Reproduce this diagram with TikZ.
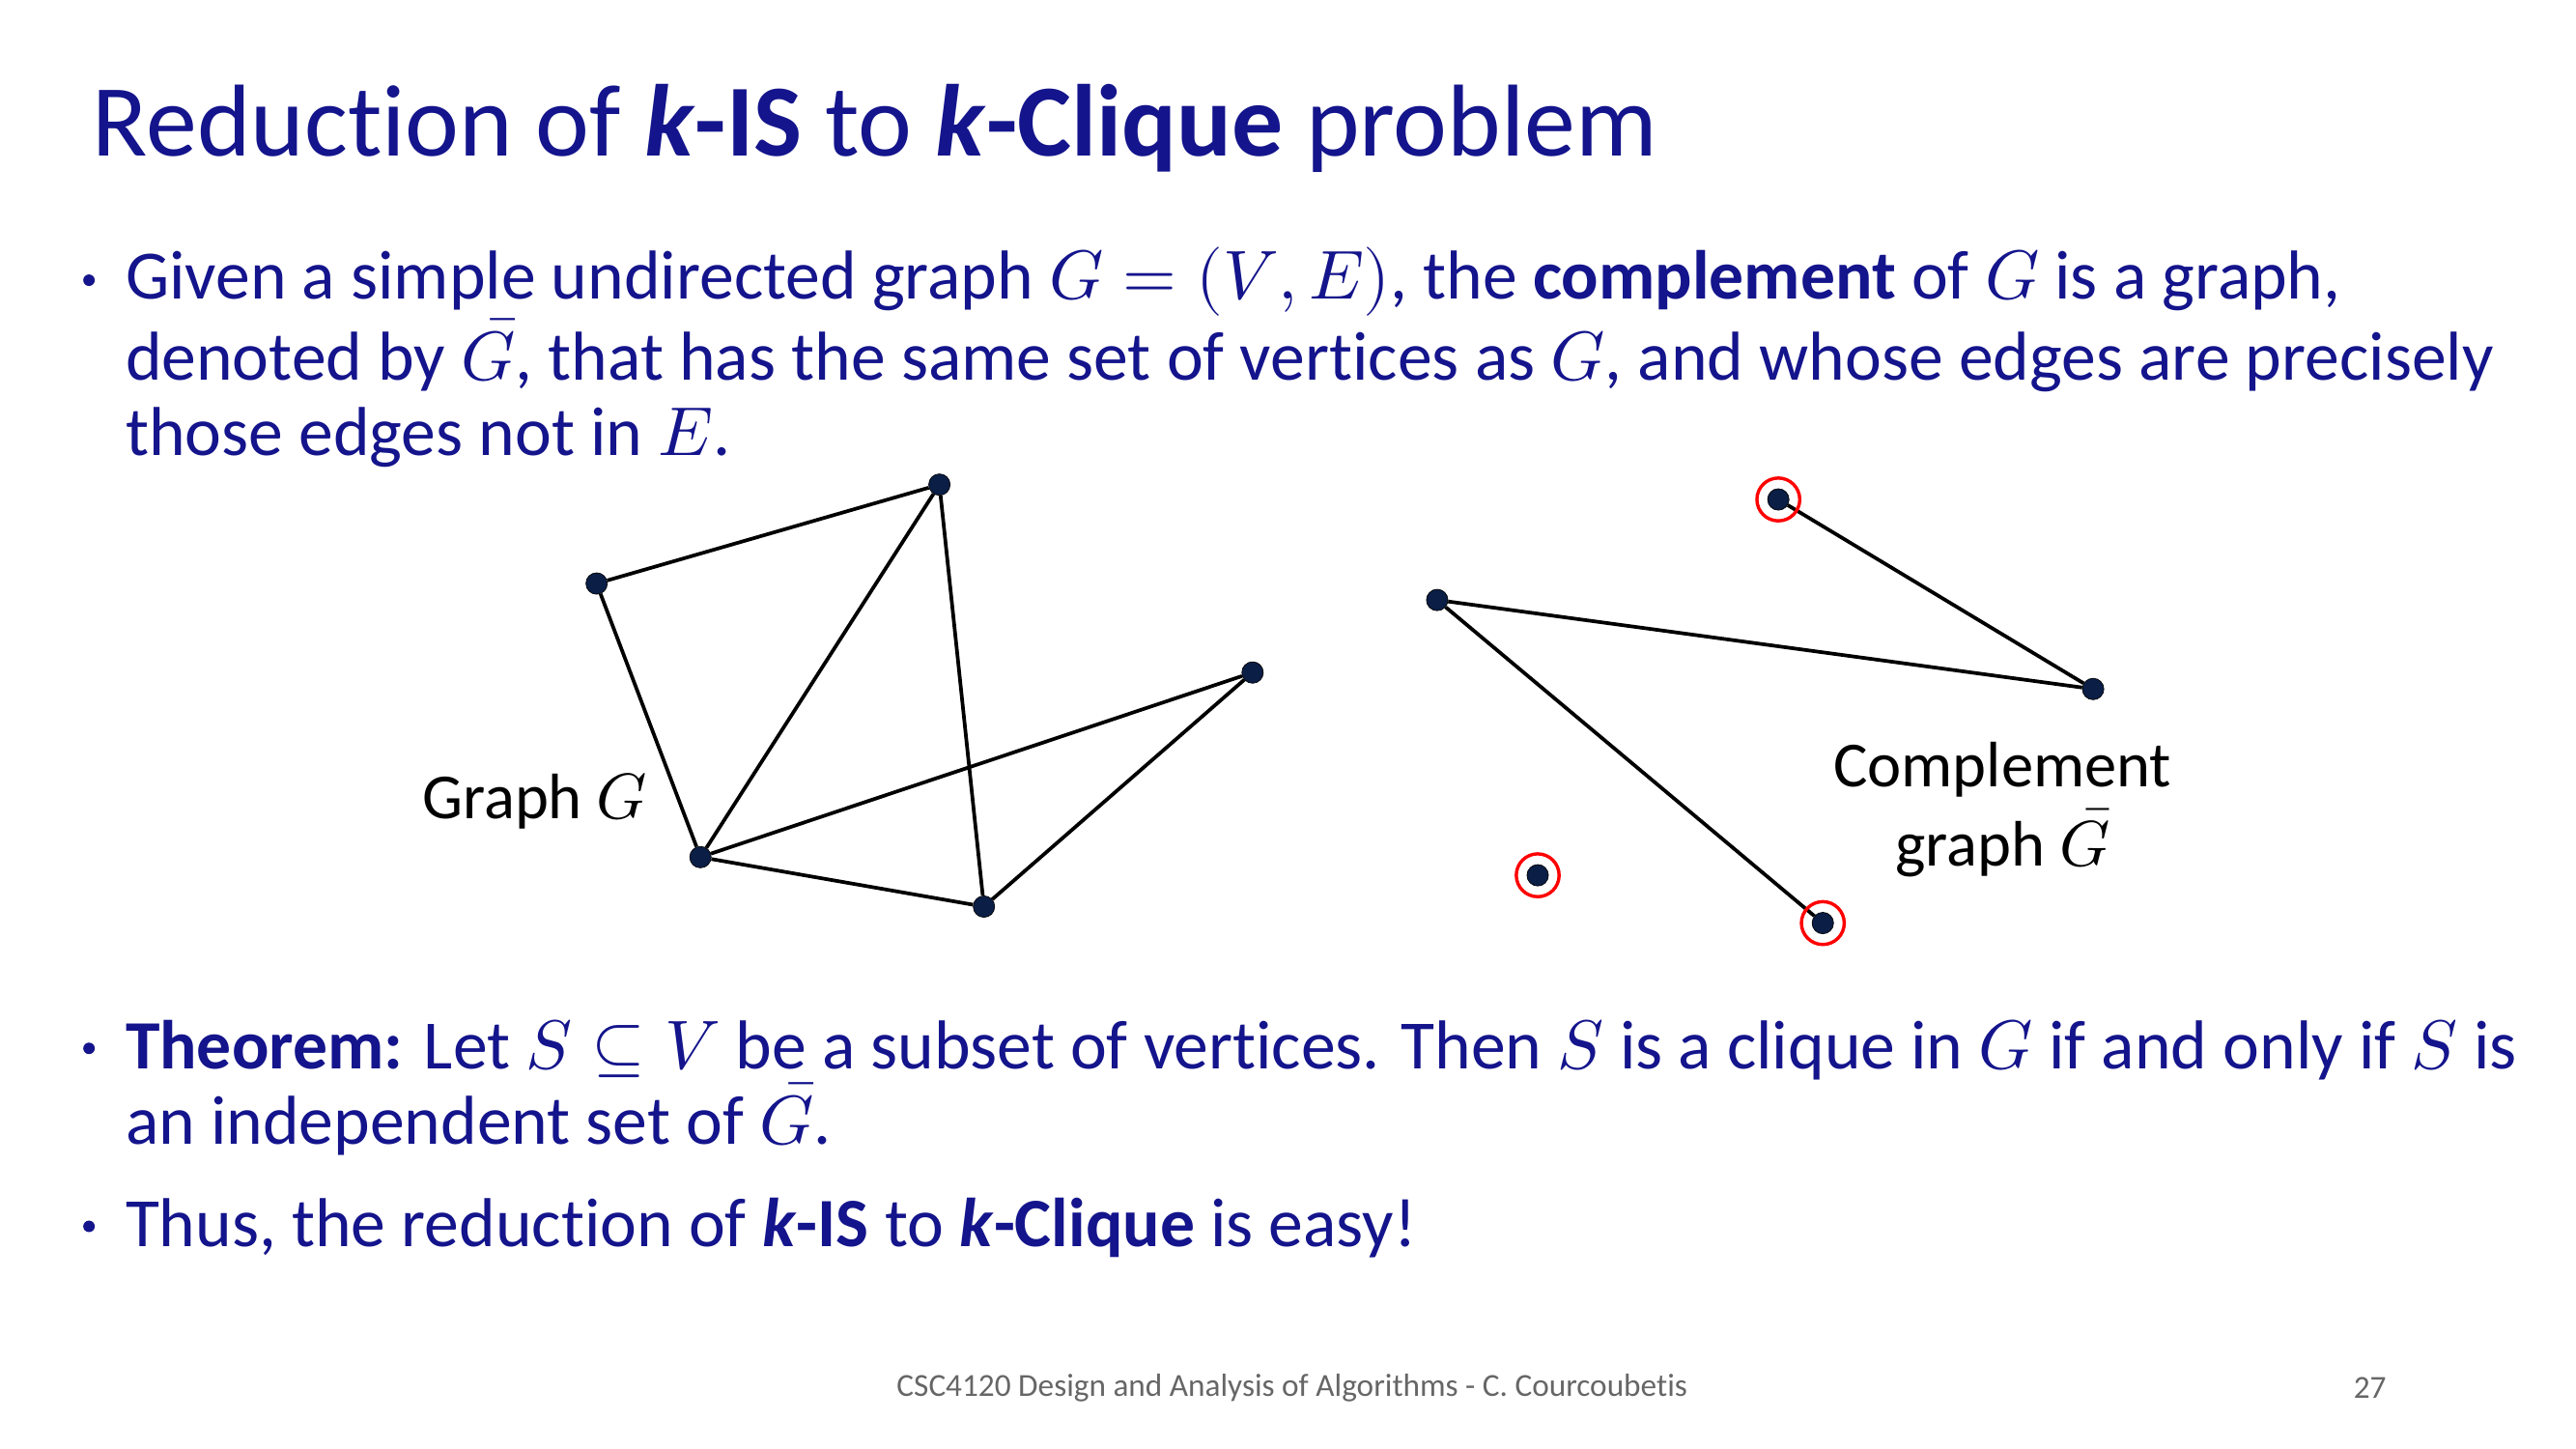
\documentclass[tikz,border=0pt]{standalone}
\usepackage{fontspec}
\usepackage{unicode-math}
\setmainfont[Ligatures=NoCommon]{Carlito}
\setmathfont{Latin Modern Math}
\definecolor{tblue}{RGB}{20,20,140}
\definecolor{vfill}{RGB}{10,30,70}
\begin{document}
\begin{tikzpicture}[x=1pt,y=-1pt,
  vtx/.style={circle,fill=vfill,draw=black,inner sep=0pt,minimum size=13pt},
  edge/.style={line width=2.2pt,black},
  ring/.style={circle,draw=red,line width=2pt,minimum size=26pt,inner sep=0pt},
  bul/.style={circle,fill=tblue,inner sep=0pt,minimum size=7pt},
  body/.style={anchor=west,text=tblue,font=\fontsize{42}{46}\selectfont,inner sep=0pt}]
\useasboundingbox (0,0) rectangle (1563,879);
\node[anchor=west,text=tblue,font=\fontsize{62}{66}\selectfont,inner sep=0pt] (title) at (56,78) {Reduction of \textbf{\textit{k}}\textbf{-IS} to \textbf{\textit{k}}\textbf{-Clique} problem};
\node[bul] (b1) at (54,170) {};
\node[body,align=left] (t1) at (76,217) {Given a simple undirected graph $G=(V,E)$, the \textbf{complement} of $G$ is a graph,\\denoted by $\bar{G}$, that has the same set of vertices as $G$, and whose edges are precisely\\those edges not in $E$.};
\node (A) [vtx] at (570,294) {};
\node (B) [vtx] at (362,354) {};
\node (C) [vtx] at (760,408) {};
\node (D) [vtx] at (425,520) {};
\node (E) [vtx] at (597,550) {};
\draw[edge] (B)--(A) (A)--(D) (A)--(E) (B)--(D) (D)--(C) (D)--(E) (E)--(C);
\node (gl) [anchor=east,font=\fontsize{39}{44}\selectfont,inner sep=0pt] at (393,486) {Graph $G$};
\node (F) [vtx] at (1079,303) {};
\node (H) [vtx] at (872,364) {};
\node (I) [vtx] at (1270,418) {};
\node (J) [vtx] at (933,531) {};
\node (K) [vtx] at (1106,560) {};
\draw[edge] (F)--(I) (H)--(I) (H)--(K);
\node[ring] (rF) at (F) {};
\node[ring] (rJ) at (J) {};
\node[ring] (rK) at (K) {};
\node (cl) [align=center,font=\fontsize{39}{48}\selectfont,inner sep=0pt] at (1215,491) {Complement\\graph $\bar{G}$};
\node[bul] (b2) at (54,636) {};
\node[body,align=left] (t2) at (76,660) {\textbf{Theorem:} Let $S\subseteq V$ be a subset of vertices. Then $S$ is a clique in $G$ if and only if $S$ is\\an independent set of $\bar{G}$.};
\node[bul] (b3) at (54,744) {};
\node[body] (t3) at (76,745) {Thus, the reduction of \textbf{\textit{k}}\textbf{-IS} to \textbf{\textit{k}}\textbf{-Clique} is easy!};
\node (foot) [text=gray!80!black,font=\fontsize{19.5}{22}\selectfont] at (784,842) {CSC4120 Design and Analysis of Algorithms - C. Courcoubetis};
\node (pg) [text=gray!80!black,font=\fontsize{19.5}{22}\selectfont] at (1438,842) {27};
\end{tikzpicture}
\end{document}
